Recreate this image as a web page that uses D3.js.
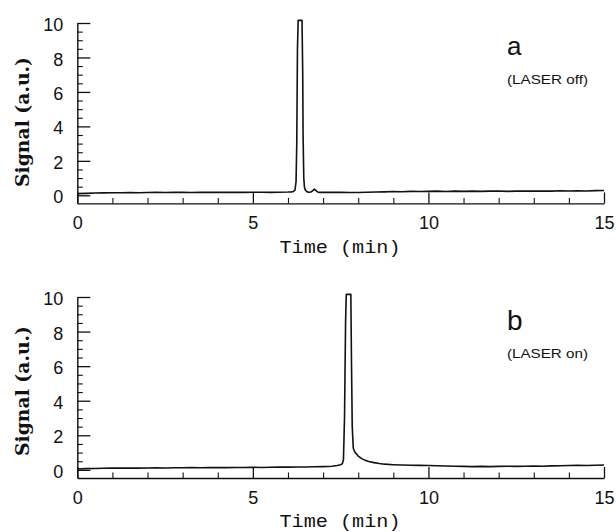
<!DOCTYPE html>
<html>
<head>
<meta charset="utf-8">
<script src="https://cdn.jsdelivr.net/npm/d3@7"></script>
<style>
  html, body { margin: 0; padding: 0; background: #fff; }
  svg { display: block; }
</style>
</head>
<body>
<div id="chart"></div>
<script>
// ---------- data ----------
const xMajorTicks = [0, 5, 10, 15];
const xMinorTicks = [1, 2, 3, 4, 6, 7, 8, 9, 11, 12, 13, 14];
const yMajorTicks = [0, 2, 4, 6, 8, 10];
const yMinorTicks = [0.5, 1, 1.5, 2.5, 3, 3.5, 4.5, 5, 5.5, 6.5, 7, 7.5, 8.5, 9, 9.5];

const panelLetters = ["a", "b"];
const panelNotes = ["(LASER off)", "(LASER on)"];
const xTitle = "Time (min)";
const yTitle = "Signal (a.u.)";

// Panel a: LASER off
const timeA = [0, 0.25, 0.5, 0.75, 1, 1.25, 1.5, 1.75, 2, 2.25, 2.5, 2.75, 3, 3.25, 3.5, 3.75,
  4, 4.25, 4.5, 4.75, 5, 5.25, 5.5, 5.75, 6.0, 6.1, 6.15, 6.2, 6.23, 6.25, 6.27, 6.29, 6.40,
  6.42, 6.43, 6.45, 6.47, 6.5, 6.55, 6.6, 6.65, 6.7, 6.75, 6.8, 6.85, 6.9, 7.0, 7.25, 7.5, 7.75,
  8, 8.25, 8.5, 8.75, 9, 9.25, 9.5, 9.75, 10, 10.25, 10.5, 10.75, 11, 11.25, 11.5, 11.75,
  12, 12.25, 12.5, 12.75, 13, 13.25, 13.5, 13.75, 14, 14.25, 14.5, 14.75, 15];
const signalA = [0.10, 0.11, 0.13, 0.14, 0.15, 0.15, 0.16, 0.15, 0.16, 0.17, 0.16, 0.17, 0.17, 0.16, 0.17, 0.18,
  0.17, 0.17, 0.18, 0.17, 0.18, 0.18, 0.17, 0.18, 0.19, 0.20, 0.22, 0.30, 0.80, 3.0, 8.5, 10.15, 10.15,
  7.0, 3.5, 1.0, 0.45, 0.28, 0.20, 0.18, 0.19, 0.26, 0.36, 0.27, 0.19, 0.17, 0.17, 0.18, 0.17, 0.16,
  0.16, 0.18, 0.19, 0.20, 0.22, 0.21, 0.23, 0.22, 0.23, 0.24, 0.22, 0.24, 0.23, 0.24, 0.23, 0.24,
  0.25, 0.23, 0.24, 0.25, 0.24, 0.25, 0.24, 0.26, 0.25, 0.26, 0.25, 0.27, 0.28];

// Panel b: LASER on
const timeB = [0, 0.25, 0.5, 0.75, 1, 1.25, 1.5, 1.75, 2, 2.25, 2.5, 2.75, 3, 3.25, 3.5, 3.75,
  4, 4.25, 4.5, 4.75, 5, 5.25, 5.5, 5.75, 6, 6.25, 6.5, 6.75, 7, 7.25, 7.4, 7.5, 7.55, 7.58,
  7.61, 7.64, 7.66, 7.79, 7.81, 7.83, 7.86, 7.9, 7.95, 8.0, 8.1, 8.2, 8.3, 8.45, 8.6, 8.75,
  9, 9.25, 9.5, 9.75, 10, 10.25, 10.5, 10.75, 11, 11.25, 11.5, 11.75, 12, 12.25, 12.5, 12.75,
  13, 13.25, 13.5, 13.75, 14, 14.25, 14.5, 14.75, 15];
const signalB = [0.05, 0.07, 0.08, 0.09, 0.10, 0.10, 0.11, 0.10, 0.11, 0.12, 0.11, 0.12, 0.12, 0.13, 0.12, 0.13,
  0.14, 0.13, 0.14, 0.14, 0.15, 0.14, 0.15, 0.16, 0.16, 0.17, 0.17, 0.18, 0.19, 0.21, 0.25, 0.30, 0.36, 0.60,
  3.0, 8.5, 10.15, 10.15, 6.0, 2.5, 1.25, 1.05, 0.92, 0.80, 0.65, 0.55, 0.48, 0.42, 0.37, 0.33,
  0.30, 0.28, 0.27, 0.26, 0.25, 0.24, 0.22, 0.21, 0.20, 0.19, 0.20, 0.19, 0.20, 0.21, 0.20, 0.21,
  0.22, 0.21, 0.23, 0.24, 0.25, 0.26, 0.25, 0.27, 0.28];

// ---------- layout ----------
const W = 616, H = 532;
const xLeft = 77.3, xRight = 604;
const yDomain = [-0.47, 10];
const panels = [
  { time: timeA, signal: signalA, bottom: 203.4, top: 23, letter: panelLetters[0], note: panelNotes[0],
    letterY: 55, noteY: 84, titleY: 253, yTitleCenter: 122, letterSize: 26 },
  { time: timeB, signal: signalB, bottom: 478, top: 297, letter: panelLetters[1], note: panelNotes[1],
    letterY: 330, noteY: 358, titleY: 527, yTitleCenter: 391, letterSize: 28 }
];

const tickFont = "'Liberation Sans', Arial, sans-serif";

const svg = d3.select("#chart").append("svg")
  .attr("width", W).attr("height", H)
  .style("font-family", "'Liberation Mono', 'DejaVu Sans Mono', monospace");

const x = d3.scaleLinear().domain([0, 15]).range([xLeft, xRight]);

panels.forEach(p => {
  const y = d3.scaleLinear().domain(yDomain).range([p.bottom, p.top]);
  const g = svg.append("g");

  // y axis (major)
  const yAx = g.append("g").attr("transform", `translate(${xLeft},0)`)
    .call(d3.axisLeft(y).tickValues(yMajorTicks).tickSize(-13).tickSizeOuter(0).tickPadding(14)
      .tickFormat(d3.format("d")));
  yAx.select(".domain").attr("stroke", "#111").attr("stroke-width", 1.4);
  yAx.selectAll(".tick line").attr("stroke", "#111").attr("stroke-width", 1.3);
  yAx.selectAll(".tick text").attr("font-size", 18).attr("fill", "#111")
    .attr("font-family", tickFont).attr("dy", "0.42em");

  // y axis minor
  const yMin = g.append("g").attr("transform", `translate(${xLeft},0)`)
    .call(d3.axisLeft(y).tickValues(yMinorTicks).tickSize(-5.5).tickSizeOuter(0).tickFormat(""));
  yMin.select(".domain").remove();
  yMin.selectAll(".tick line").attr("stroke", "#111").attr("stroke-width", 1.1);

  // x axis (major)
  const xAx = g.append("g").attr("transform", `translate(0,${p.bottom})`)
    .call(d3.axisBottom(x).tickValues(xMajorTicks).tickSize(-11).tickSizeOuter(0).tickPadding(13)
      .tickFormat(d3.format("d")));
  xAx.select(".domain").attr("stroke", "#111").attr("stroke-width", 1.4);
  xAx.selectAll(".tick line").attr("stroke", "#111").attr("stroke-width", 1.3);
  xAx.selectAll(".tick text").attr("font-size", 18).attr("fill", "#111")
    .attr("font-family", tickFont);

  // x axis minor
  const xMin = g.append("g").attr("transform", `translate(0,${p.bottom})`)
    .call(d3.axisBottom(x).tickValues(xMinorTicks).tickSize(-5.5).tickSizeOuter(0).tickFormat(""));
  xMin.select(".domain").remove();
  xMin.selectAll(".tick line").attr("stroke", "#111").attr("stroke-width", 1.1);

  // signal trace
  const pts = p.time.map((t, i) => [t, p.signal[i]]);
  g.append("path").datum(pts)
    .attr("fill", "none").attr("stroke", "#111").attr("stroke-width", 1.6)
    .attr("stroke-linejoin", "round")
    .attr("d", d3.line().x(d => x(d[0])).y(d => y(d[1])));

  // axis titles
  g.append("text").attr("x", 340).attr("y", p.titleY)
    .attr("text-anchor", "middle").attr("font-size", 19).attr("fill", "#111")
    .attr("font-family", "'Liberation Mono', monospace")
    .attr("textLength", 121).attr("lengthAdjust", "spacingAndGlyphs")
    .text(xTitle);

  g.append("text")
    .attr("transform", `translate(29,${p.yTitleCenter}) rotate(-90)`)
    .attr("text-anchor", "middle").attr("font-size", 19).attr("font-weight", "bold")
    .attr("fill", "#111").attr("font-family", "'DejaVu Serif', serif")
    .attr("textLength", 130).attr("lengthAdjust", "spacingAndGlyphs")
    .text(yTitle);

  // panel letter and note
  g.append("text").attr("x", 507).attr("y", p.letterY)
    .attr("font-size", p.letterSize).attr("fill", "#111")
    .attr("font-family", "'Liberation Sans', Arial, sans-serif")
    .text(p.letter);
  g.append("text").attr("x", 507).attr("y", p.noteY)
    .attr("font-size", 13).attr("fill", "#111")
    .attr("font-family", "'Liberation Sans', Arial, sans-serif")
    .attr("textLength", 81).attr("lengthAdjust", "spacingAndGlyphs")
    .text(p.note);
});
</script>
</body>
</html>
